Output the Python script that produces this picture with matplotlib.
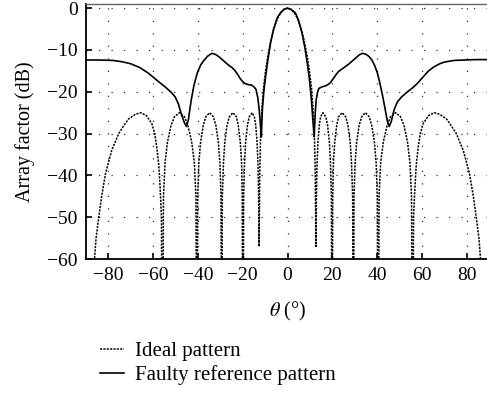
import numpy as np
import matplotlib
matplotlib.use('Agg')
import matplotlib.pyplot as plt

plt.rcParams['font.family'] = ['Liberation Serif', 'DejaVu Serif']
plt.rcParams['mathtext.fontset'] = 'stix'

# ideal pattern, deep nulls set below the axis
ideal_theta = [-90, -87.2, -86.5, -85.5, -84.3, -83, -81.3, -78.5, -75.4, -73, -71, -68, -65.5,
               -63, -60.6, -59.3, -58.4, -57.5, -56.9, -56.3, -55.9,
               -55.4, -54.7, -53.6, -52, -50.5, -48.3, -46, -44.5, -42.8, -41.6, -40.9, -40.5,
               -40.1, -39.6, -38.8, -37.6, -36.5, -34.8, -33.1, -32.0, -30.9, -30.2, -29.7, -29.4,
               -29.1, -28.6, -28.0, -27.0, -26.0, -24.4, -22.8, -22.0, -21.1, -20.5, -20.2, -19.9,
               -19.6, -19.2, -18.7, -17.9, -17.1, -15.8, -14.8, -14.2, -13.6, -13.2, -12.9, -12.7,
               -12.4, -12.0, -11.4, -10.7, -9.8, -8.8, -7.6, -6.5, -4.6, -3, -1.5, 0,
               1.5, 3, 4.6, 6.5, 7.6, 8.8, 9.8, 10.7, 11.4, 12.0, 12.4, 12.7,
               12.9, 13.2, 13.6, 14.2, 14.8, 15.8, 17.1, 17.9, 18.7, 19.2, 19.6, 19.9,
               20.2, 20.5, 21.1, 22.0, 22.8, 24.4, 26.0, 27.0, 28.0, 28.6, 29.1, 29.4,
               29.7, 30.2, 30.9, 32.0, 33.1, 34.8, 36.5, 37.6, 38.8, 39.6, 40.1, 40.5,
               40.9, 41.6, 42.8, 44.5, 46, 48.3, 50.5, 52, 53.6, 54.7, 55.4, 55.9,
               56.3, 56.9, 57.5, 58.4, 59.3, 60.6, 63, 65.5, 68, 71, 73, 75.4, 78.5, 81.3,
               83, 84.3, 85.5, 86.5, 87.2, 90]
ideal_db = [-80, -100, -62, -55, -50, -45, -39.6, -34, -30, -28, -26.5, -25.4, -25,
            -25.7, -27.6, -30, -33.2, -37.5, -42.9, -50, -100,
            -45, -37, -32, -28, -26, -25, -26, -28, -32, -37, -45, -100,
            -45, -37, -32, -28, -26, -25, -26, -28, -32, -37, -45, -100,
            -45, -37, -32, -28, -26, -25, -26, -28, -32, -37, -45, -100,
            -45, -37, -32, -28, -26, -25, -26, -28, -32, -37, -45, -57,
            -40, -30, -24, -19, -15, -11.5, -8.2, -5.6, -2.6, -1.1, -0.3, 0,
            -0.3, -1.1, -2.6, -5.6, -8.2, -11.5, -15, -19, -24, -30, -40, -57,
            -45, -37, -32, -28, -26, -25, -26, -28, -32, -37, -45, -100,
            -45, -37, -32, -28, -26, -25, -26, -28, -32, -37, -45, -100,
            -45, -37, -32, -28, -26, -25, -26, -28, -32, -37, -45, -100,
            -45, -37, -32, -28, -26, -25, -26, -28, -32, -37, -45, -100,
            -50, -42.9, -37.5, -33.2, -30, -27.6, -25.7, -25, -25.4, -26.5, -28, -30, -34, -39.6,
            -45, -50, -55, -62, -100, -80]

# faulty reference pattern
faulty_theta = [-90, -84, -78, -74, -70, -66, -62, -58, -54.7, -52, -50.2, -48.8, -47.6, -46.2,
                -45.2, -44.3, -43.1, -41.8, -40.3, -38.8, -37.2, -35.5, -33.7, -32, -30.2,
                -28.3, -26.4, -24.8, -23.5, -22.2, -21.2, -20, -19, -17.5, -16, -15, -14.1,
                -13.3, -12.6, -12, -11.7, -11.2, -10.5, -9.8, -8.8, -7.6, -6.2, -4.6, -3,
                -1.5, 0, 1.5, 3, 3.6, 5, 6.5, 7.7, 8.8, 9.8, 10.7, 11.3, 11.9, 12.4, 12.8,
                13.4, 14, 15.5, 16.9, 18, 19.2, 20.5, 21.8, 22.9, 25, 27.3, 29, 30.3, 32,
                33.5, 35, 36.5, 37.7, 39, 40.2, 41.2, 42.5, 43.7, 44.6, 45.4, 46.3, 47.1,
                47.7, 49.1, 51, 53.6, 56, 58, 60, 61, 63, 65.5, 68, 70, 74.4, 78.8, 84, 90]
faulty_db = [-12.4, -12.4, -12.5, -12.8, -13.3, -14.2, -15.6, -17.4, -18.8, -20.1, -21.2,
             -22.8, -25, -27.2, -28.3, -26.8, -22.3, -18.5, -15.5, -13.6, -12.4, -11.4,
             -10.8, -11.1, -11.8, -12.7, -13.6, -14.2, -14.9, -15.9, -16.8, -17.6, -18.0,
             -18.3, -18.4, -18.8, -19.4, -21.3, -24.5, -28.5, -30.8, -24, -19.5, -16.4,
             -12.5, -8.4, -5, -2.3, -1.0, -0.25, 0, -0.25, -0.9, -1.2, -3, -6, -9.3, -13,
             -17, -22, -26.5, -30.8, -25, -22, -20.2, -19.2, -18.8, -18.6, -18.3, -17.8,
             -16.8, -15.8, -15.1, -14.3, -13.4, -12.6, -12, -11.2, -10.8, -11.0, -11.6,
             -12.4, -13.8, -15.6, -17.8, -21, -24.4, -27, -28.3, -27.2, -25.4, -24.2,
             -22.4, -21.2, -20, -19, -18, -16.8, -16.2, -15, -14, -13.3, -12.9, -12.5,
             -12.4, -12.3, -12.3]

xticks = [-80, -60, -40, -20, 0, 20, 40, 60, 80]
yticks = [0, -10, -20, -30, -40, -50, -60]

fig = plt.figure(figsize=(4.87, 3.95), dpi=100)
ax = fig.add_axes([86/487, 136/395, 403/487, 255/395])

ax.plot(ideal_theta, ideal_db, color='black', lw=1.1, linestyle=(0, (1.4, 0.8)),
        label='Ideal pattern')
ax.plot(faulty_theta, faulty_db, color='black', lw=1.2, label='Faulty reference pattern')

ax.set_xlim(-90, 90)
ax.set_ylim(-60, 1)
ax.set_xticks(xticks)
ax.set_yticks(yticks)
ax.set_xticklabels(['\u2212%d' % -t if t < 0 else '%d' % t for t in xticks])
ax.set_yticklabels(['\u2212%d' % -t if t < 0 else '%d' % t for t in yticks])
ax.grid(True, color='#333333', lw=0.9, linestyle=(0, (1, 9)))
ax.tick_params(direction='in', length=4, width=1.2, labelsize=14, pad=6, top=False, right=False)
for s in ['left', 'bottom']:
    ax.spines[s].set_linewidth(1.3)
ax.spines['top'].set_color('#666666')
ax.spines['top'].set_linewidth(1.0)
ax.spines['right'].set_visible(False)

ax.set_ylabel('Array factor (dB)', fontsize=14.5, labelpad=9)
ax.set_xlabel(r'$\theta$ (°)', fontsize=14.5, labelpad=11)

fig.legend(loc='upper left', bbox_to_anchor=(92/487, 1 - 333/395), frameon=False,
           fontsize=15, handlelength=1.15, handletextpad=0.5, labelspacing=0.2,
           borderaxespad=0)

fig.savefig('out.png', dpi=100)
